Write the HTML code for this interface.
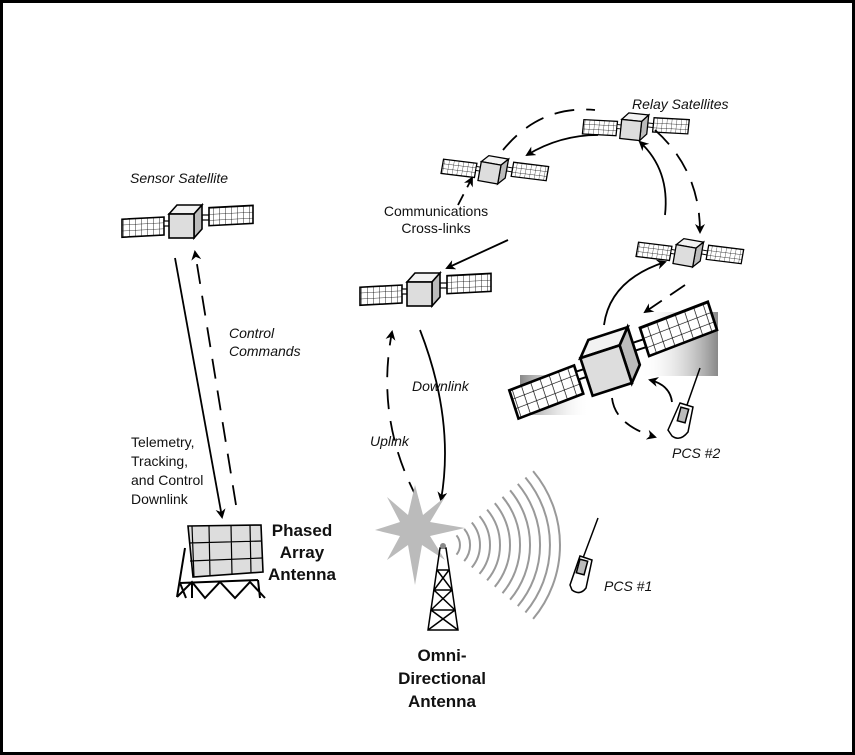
<!DOCTYPE html>
<html><head><style>
html,body{margin:0;padding:0;background:#fff;}
svg{display:block;}
text{font-family:"Liberation Sans",Arial,sans-serif;font-size:14px;fill:#111;}
.i{font-style:italic;}
.b{font-weight:bold;font-size:17px;}
</style></head><body>
<svg width="855" height="755" viewBox="0 0 855 755" xmlns="http://www.w3.org/2000/svg">
<defs>
<marker id="ah" markerWidth="10" markerHeight="10" refX="8" refY="5" orient="auto" markerUnits="userSpaceOnUse">
<path d="M0,0 L10,5 L0,10 L3,5 Z" fill="#000"/>
</marker>
<linearGradient id="sh" x1="0" x2="1"><stop offset="0" stop-color="#fff" stop-opacity="0"/><stop offset="1" stop-color="#888"/></linearGradient>
<linearGradient id="sh2" x1="1" x2="0"><stop offset="0" stop-color="#fff" stop-opacity="0"/><stop offset="1" stop-color="#888"/></linearGradient>
<pattern id="grid" width="6" height="6" patternUnits="userSpaceOnUse"><rect width="6" height="6" fill="#fff"/><path d="M6,0 V6 M0,6 H6" stroke="#000" stroke-width="0.8" fill="none"/></pattern>
<g id="sat">
<rect x="-62" y="-6" width="42" height="18" fill="url(#grid)" stroke="#000" stroke-width="1.6" transform="skewY(-3)"/>
<rect x="-20" y="-1" width="6" height="5" fill="#fff" stroke="#000" stroke-width="1.2"/>
<rect x="18" y="-7" width="7" height="5" fill="#fff" stroke="#000" stroke-width="1.2"/>
<rect x="25" y="-13" width="44" height="18" fill="url(#grid)" stroke="#000" stroke-width="1.6" transform="skewY(-3)"/>
<polygon points="-15,-8 -7,-17 18,-17 10,-8" fill="#f2f2f2" stroke="#000" stroke-width="1.6"/>
<polygon points="10,-8 18,-17 18,7 10,16" fill="#bbb" stroke="#000" stroke-width="1.6"/>
<rect x="-15" y="-8" width="25" height="24" fill="#ddd" stroke="#000" stroke-width="1.6"/>
</g>
</defs>
<rect x="1.5" y="1.5" width="852" height="752" fill="#fff" stroke="#000" stroke-width="3"/>

<rect x="640" y="312" width="78" height="64" fill="url(#sh)"/>
<rect x="520" y="375" width="70" height="40" fill="url(#sh2)"/>

<use href="#sat" transform="translate(184,222)"/>
<use href="#sat" transform="translate(422,290)"/>
<use href="#sat" transform="translate(492,170) rotate(10) scale(0.8)"/>
<use href="#sat" transform="translate(633,127) rotate(6) scale(0.8)"/>
<use href="#sat" transform="translate(687,253) rotate(10) scale(0.8)"/>
<use href="#sat" transform="translate(608,363) rotate(-18) scale(1.65)"/>

<g fill="none" stroke="#000" stroke-width="1.8" marker-end="url(#ah)">
<path d="M175,258 L222,517"/>
<path d="M236,505 L195,252" stroke-dasharray="20,12"/>
<path d="M420,330 Q455,420 441,500"/>
<path d="M418,500 Q375,420 392,332" stroke-dasharray="20,12"/>
<path d="M458,205 L472,178" stroke-dasharray="12,8"/>
<path d="M508,240 L447,268"/>
<path d="M503,150 Q540,105 595,110" stroke-dasharray="20,12" marker-end="none"/>
<path d="M598,135 Q560,135 527,155"/>
<path d="M665,215 Q670,170 640,142"/>
<path d="M655,130 Q700,170 700,232" stroke-dasharray="20,12"/>
<path d="M604,325 Q610,280 665,262"/>
<path d="M685,285 L645,312" stroke-dasharray="18,10"/>
<path d="M672,402 Q670,385 650,380"/>
<path d="M612,398 Q615,425 655,437" stroke-dasharray="18,10"/>
</g>

<polygon points="415,485 423,515 445,497 430,522 465,528 430,536 445,560 422,545 415,585 408,545 387,560 400,536 375,530 400,522 387,497 408,515" fill="#bbb"/>
<circle cx="415" cy="530" r="15" fill="#bbb"/>
<g fill="none" stroke="#999" stroke-width="2">
<path d="M456.5,535.4 A15,15 0 0 1 456.5,554.6"/>
<path d="M464.2,528.9 A25,25 0 0 1 464.2,561.1"/>
<path d="M471.8,522.5 A35,35 0 0 1 471.8,567.5"/>
<path d="M479.5,516.1 A45,45 0 0 1 479.5,573.9"/>
<path d="M487.1,509.6 A55,55 0 0 1 487.1,580.4"/>
<path d="M494.8,503.2 A65,65 0 0 1 494.8,586.8"/>
<path d="M502.5,496.8 A75,75 0 0 1 502.5,593.2"/>
<path d="M510.1,490.3 A85,85 0 0 1 510.1,599.7"/>
<path d="M517.8,483.9 A95,95 0 0 1 517.8,606.1"/>
<path d="M525.4,477.5 A105,105 0 0 1 525.4,612.5"/>
<path d="M533.1,471.1 A115,115 0 0 1 533.1,618.9"/>
</g>
<g fill="none" stroke="#000" stroke-width="1.5">
<path d="M440,548 L428,630 L458,630 L446,548 Z"/>
<path d="M437,570 L449,570 M434,590 L452,590 M431,610 L455,610 M437,570 L452,590 L431,610 L458,630 M449,570 L434,590 L455,610 L428,630"/>
</g>
<circle cx="443" cy="546" r="3" fill="#888"/>
<!-- phased array -->
<polygon points="188,526 261,525 263,572 193,577" fill="#ddd" stroke="#000" stroke-width="1.6"/>
<g stroke="#000" stroke-width="1.2"><path d="M209,526 L210,576 M231,525 L232,575 M250,525 L251,573 M189,543 L262,541 M190,561 L262,558 M192,526 L194,577"/></g>
<g fill="none" stroke="#000" stroke-width="2">
<path d="M185,548 L177,597 M177,597 L192,582 L205,598 L220,582 L235,598 L250,582 L265,598 M180,583 L258,580 M192,582 L192,598 M258,580 L260,598 M180,583 L186,598"/>
</g>
<g stroke="#000" stroke-width="1.5" fill="#fff">
<path d="M598,518 L583,558"/>
<path d="M580,556 L592,560 L586,588 Q580,596 572,590 L570,585 Z"/>
<rect x="578" y="560" width="8" height="14" fill="#bbb" transform="rotate(15 582 567)"/>
<path d="M700,368 L687,405"/>
<path d="M680,403 L693,407 L688,432 Q680,442 672,436 L668,430 Z"/>
<rect x="679" y="408" width="8" height="14" fill="#bbb" transform="rotate(15 683 415)"/>
</g>

<text x="130" y="183" class="i">Sensor Satellite</text>
<text x="632" y="109" class="i">Relay Satellites</text>
<text x="436" y="216" text-anchor="middle">Communications</text>
<text x="436" y="233" text-anchor="middle">Cross-links</text>
<text x="229" y="338" class="i">Control</text>
<text x="229" y="356" class="i">Commands</text>
<text x="412" y="391" class="i">Downlink</text>
<text x="370" y="446" class="i">Uplink</text>
<text x="131" y="447">Telemetry,</text>
<text x="131" y="466">Tracking,</text>
<text x="131" y="485">and Control</text>
<text x="131" y="504">Downlink</text>
<text x="302" y="536" class="b" text-anchor="middle">Phased</text>
<text x="302" y="558" class="b" text-anchor="middle">Array</text>
<text x="302" y="580" class="b" text-anchor="middle">Antenna</text>
<text x="442" y="661" class="b" text-anchor="middle">Omni-</text>
<text x="442" y="684" class="b" text-anchor="middle">Directional</text>
<text x="442" y="707" class="b" text-anchor="middle">Antenna</text>
<text x="604" y="591" class="i">PCS #1</text>
<text x="672" y="458" class="i">PCS #2</text>
</svg>
</body></html>
